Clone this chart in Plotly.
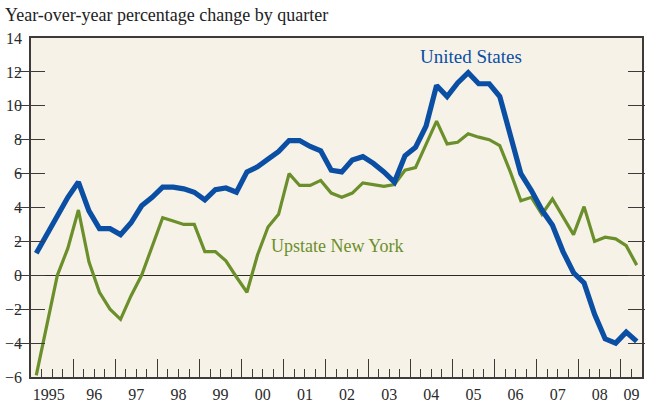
import plotly.graph_objects as go

# quarterly, 1995 Q1 .. 2009 Q2
united_states = [
    1.3, 2.4, 3.5, 4.6, 5.5, 3.8, 2.75, 2.75, 2.4, 3.1,
    4.1, 4.6, 5.2, 5.2, 5.1, 4.9, 4.45, 5.05, 5.15, 4.9,
    6.1, 6.4, 6.85, 7.3, 7.95, 7.95, 7.6, 7.35, 6.2, 6.1,
    6.8, 7.0, 6.6, 6.1, 5.5, 7.05, 7.55, 8.8, 11.2, 10.55,
    11.35, 11.95, 11.3, 11.3, 10.55, 8.4, 6.0, 5.0, 3.85, 2.95,
    1.4, 0.15, -0.45, -2.3, -3.75, -4.0, -3.35, -3.9,
]
upstate_ny = [
    -5.9, -3.0, 0.0, 1.6, 3.85, 0.8, -1.0, -2.0, -2.6, -1.2,
    0.0, 1.7, 3.4, 3.2, 3.0, 3.0, 1.4, 1.4, 0.85, -0.1,
    -1.0, 1.2, 2.85, 3.6, 6.0, 5.3, 5.3, 5.6, 4.85, 4.6,
    4.85, 5.45, 5.35, 5.25, 5.35, 6.2, 6.35, 7.7, 9.1, 7.75,
    7.85, 8.35, 8.15, 8.0, 7.65, 6.1, 4.4, 4.6, 3.6, 4.5,
    3.45, 2.4, 4.05, 2.0, 2.25, 2.15, 1.75, 0.6,
]
year_labels = ["1995", "96", "97", "98", "99", "00", "01", "02",
               "03", "04", "05", "06", "07", "08", "09"]

quarters = [1995 + i * 0.25 + 0.125 for i in range(len(united_states))]
# "1995" sits a touch left of its year's centre, "09" centred on the half year
label_pos = [1995.42] + [1996.5 + k for k in range(len(year_labels) - 2)] + [2009.25]

BLUE = "#0a4fa3"
GREEN = "#6a8f2b"
AXIS = "#3f3a3a"
FONT = "Liberation Serif"

fig = go.Figure()
fig.add_trace(go.Scatter(x=quarters, y=upstate_ny, mode="lines",
                         line=dict(color=GREEN, width=3.2), xaxis="x"))
fig.add_trace(go.Scatter(x=quarters, y=united_states, mode="lines",
                         line=dict(color=BLUE, width=5.2), xaxis="x2"))

fig.add_annotation(x=2005.45, y=12.9, text="United States", showarrow=False,
                   font=dict(family=FONT, size=19, color=BLUE))
fig.add_annotation(x=2002.28, y=1.7, text="Upstate New York", showarrow=False,
                   font=dict(family=FONT, size=18, color=GREEN))
fig.add_annotation(x=0, y=1, xref="paper", yref="paper", xshift=-28, yshift=11,
                   xanchor="left", yanchor="bottom", showarrow=False,
                   text="Year-over-year percentage change by quarter",
                   font=dict(family=FONT, size=18, color="#222"))

x_range = [1995, 2009.5]
fig.update_layout(
    width=645, height=404,
    margin=dict(l=31, r=1, t=38, b=24),
    paper_bgcolor="white", plot_bgcolor="#f7f2e7",
    showlegend=False,
    font=dict(family=FONT, size=16, color="#2a2a2a"),
    xaxis=dict(
        range=x_range, tickmode="array", tickvals=label_pos, ticktext=year_labels,
        ticks="", showline=True, linecolor=AXIS, linewidth=1.6, mirror=True,
        showgrid=False, zeroline=False, ticklabelstandoff=2,
    ),
    xaxis2=dict(
        range=x_range, overlaying="x", side="bottom", showticklabels=False,
        tickmode="linear", tick0=1995, dtick=1, ticks="inside", ticklen=18,
        tickwidth=1.4, tickcolor=AXIS, showline=False, showgrid=False,
        zeroline=False,
        minor=dict(ticks="inside", ticklen=8, tickwidth=1.4, tickcolor=AXIS,
                   tick0=1995, dtick=0.25, showgrid=False),
    ),
    yaxis=dict(
        range=[-6, 14], tickmode="linear", tick0=-6, dtick=2,
        ticks="inside", ticklen=14, tickwidth=1.4, tickcolor=AXIS,
        showline=True, linecolor=AXIS, linewidth=1.6, mirror="allticks",
        showgrid=False, zeroline=True, zerolinecolor="#2a2a2a", zerolinewidth=1.2,
        ticklabelstandoff=4,
    ),
)

# the page's default body margin would shift the chart by 8px
fig.write_html("out.html", config={"displayModeBar": False},
               post_script="document.body.style.margin='0';")
